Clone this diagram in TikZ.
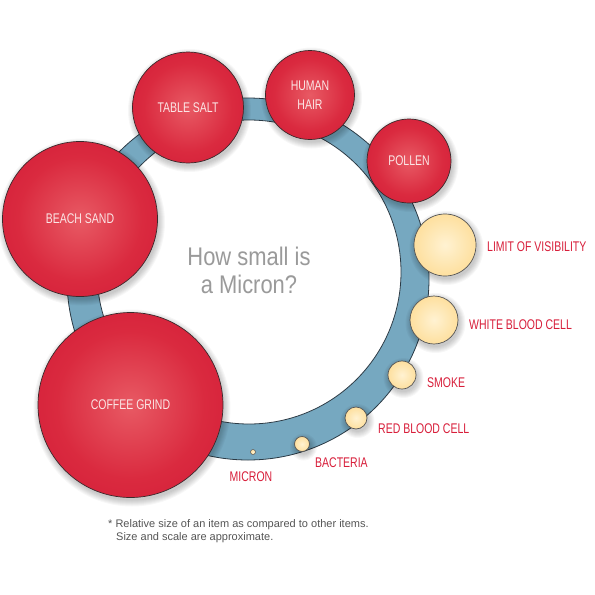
\documentclass[tikz,border=0pt]{standalone}
\usepackage{fontspec}
\setmainfont{Liberation Sans}
\newfontfamily\condf[FakeStretch=0.75]{Liberation Sans}
\newfontfamily\centf[FakeStretch=0.86]{Liberation Sans}
\definecolor{redA}{HTML}{E85A64}
\definecolor{redB}{HTML}{DA2A3F}
\definecolor{redC}{HTML}{CF1434}
\definecolor{redD}{HTML}{BC0A29}
\definecolor{yelA}{HTML}{FFF2D2}
\definecolor{yelB}{HTML}{FDD88A}
\definecolor{yelC}{HTML}{F4C466}
\definecolor{blueA}{HTML}{76A8C0}
\definecolor{blueB}{HTML}{6698B1}
\definecolor{blueC}{HTML}{4E8099}
\definecolor{ringline}{HTML}{2B3A45}
\definecolor{ballline}{HTML}{3A2A2C}
\definecolor{yelline}{HTML}{555555}
\definecolor{labred}{HTML}{D81E3A}
\definecolor{inwhite}{HTML}{FBE6E6}
\definecolor{centgray}{HTML}{9A9A9A}
\definecolor{notegray}{HTML}{555555}
\pgfdeclareradialshading{redshade}{\pgfpointorigin}{color(0bp)=(redA); color(20bp)=(redB); color(42bp)=(redC); color(50bp)=(redD)}
\pgfdeclareradialshading{yelshade}{\pgfpointorigin}{color(0bp)=(yelA); color(35bp)=(yelB); color(50bp)=(yelC)}
\pgfdeclareradialshading{ringshade}{\pgfpointorigin}{color(0bp)=(blueA); color(41bp)=(blueA); color(45bp)=(blueB); color(50bp)=(blueC)}
\tikzset{
  redball/.style={circle, inner sep=0pt, shading=redshade, draw=ballline, line width=0.7pt,
    text=inwhite, align=center, font=\condf\fontsize{14}{19}\selectfont},
  yelball/.style={circle, inner sep=0pt, shading=yelshade, draw=yelline, line width=0.7pt},
  redlabel/.style={inner sep=0pt, text=labred, font=\condf\fontsize{14}{16}\selectfont},
  centtext/.style={inner sep=0pt, anchor=base, text=centgray, font=\centf\fontsize{25.5}{28}\selectfont},
  notetext/.style={inner sep=0pt, anchor=base west, text=notegray, font=\fontsize{11}{13}\selectfont},
  softshadow/.style={fill=black, opacity=0.03}
}
\begin{document}
\begin{tikzpicture}[x=1pt,y=-1pt]
\useasboundingbox (0,0) rectangle (595,595);
\fill[white] (0,0) rectangle (595,595);
% ring
\shadedraw[shading=ringshade, draw=ringline, line width=0.8pt] (248,279) circle (181);
\filldraw[fill=white, draw=ringline, line width=0.8pt] (249,272) circle (152);
% soft shadows
\foreach \x/\y/\r in {130.5/405/92.5, 80/219/77.5, 188/107.5/55.5, 310/95/44.5, 409/161/42,
  445/245/31, 434/320/24, 402/375/14, 356/418/11, 302/444/7.5}
  \foreach \k in {0,1,...,6}
    \fill[softshadow] (\x+1.5,\y+3) circle (\r+\k);
% red balls
\node[redball, minimum size=185pt] (coffee) at (130.5,405) {COFFEE GRIND};
\node[redball, minimum size=155pt] (sand) at (80,219) {BEACH SAND};
\node[redball, minimum size=111pt] (salt) at (188,107.5) {TABLE SALT};
\node[redball, minimum size=89pt] (hair) at (310,95) {HUMAN\\HAIR};
\node[redball, minimum size=84pt] (pollen) at (409,161) {POLLEN};
% yellow balls
\node[yelball, minimum size=62pt] (vis) at (445,245) {};
\node[yelball, minimum size=48pt] (wbc) at (434,320) {};
\node[yelball, minimum size=28pt] (smoke) at (402,375) {};
\node[yelball, minimum size=22pt] (rbc) at (356,418) {};
\node[yelball, minimum size=15pt] (bact) at (302,444) {};
\node[yelball, minimum size=5pt, line width=0.5pt] (micron) at (253,452) {};
% labels
\node[redlabel, anchor=base west] (lvis) at (487,251) {LIMIT OF VISIBILITY};
\node[redlabel, anchor=base west] (lwbc) at (469,329.5) {WHITE BLOOD CELL};
\node[redlabel, anchor=base west] (lsmoke) at (427,387.5) {SMOKE};
\node[redlabel, anchor=base west] (lrbc) at (378,433) {RED BLOOD CELL};
\node[redlabel, anchor=base west] (lbact) at (315,467.5) {BACTERIA};
\node[redlabel, anchor=base] (lmicron) at (251,481) {MICRON};
% centre text
\node[centtext] (t1) at (249,265) {How small is};
\node[centtext] (t2) at (249,293) {a Micron?};
% footnote
\node[notetext] (n1) at (108,527) {* Relative size of an item as compared to other items.};
\node[notetext] (n2) at (116,540) {Size and scale are approximate.};
\end{tikzpicture}
\end{document}
